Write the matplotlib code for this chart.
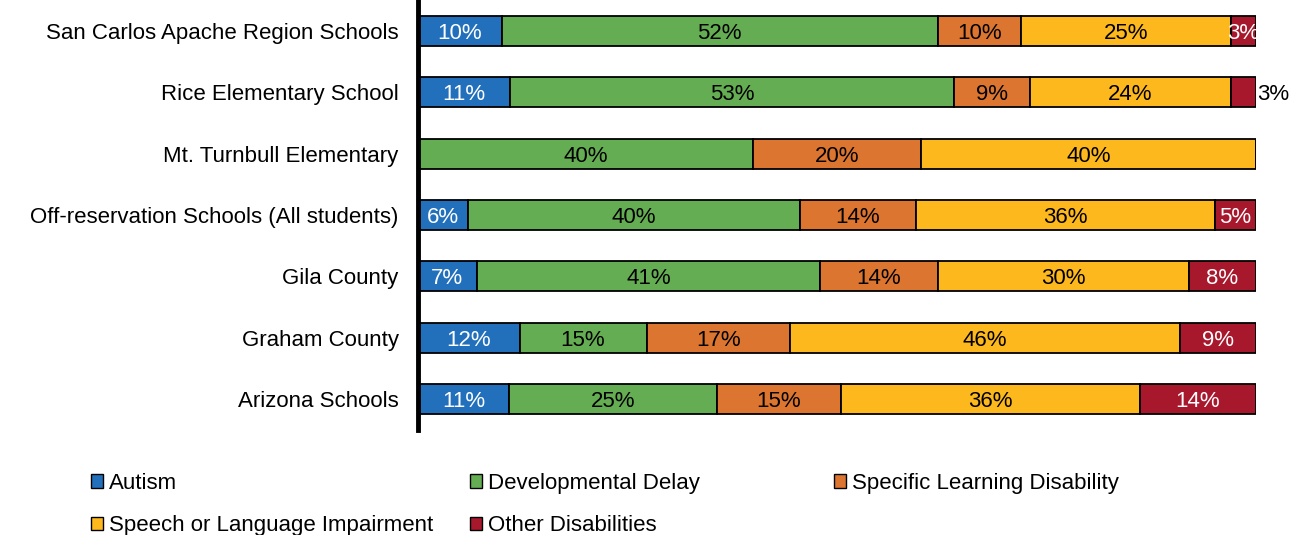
import matplotlib.pyplot as plt
import numpy as np
from matplotlib.patches import Patch

plt.rcParams['font.family'] = ['Liberation Sans', 'DejaVu Sans']

# data (percent of students per category)
schools = ['San Carlos Apache Region Schools', 'Rice Elementary School',
           'Mt. Turnbull Elementary', 'Off-reservation Schools (All students)',
           'Gila County', 'Graham County', 'Arizona Schools']
series = ['Autism', 'Developmental Delay', 'Specific Learning Disability',
          'Speech or Language Impairment', 'Other Disabilities']
autism = [10, 11, 0, 6, 7, 12, 11]
dev_delay = [52, 53, 40, 40, 41, 15, 25]
learning = [10, 9, 20, 14, 14, 17, 15]
speech = [25, 24, 40, 36, 30, 46, 36]
other = [3, 3, 0, 5, 8, 9, 14]

colors = ['#2270BC', '#65AD52', '#DC7530', '#FDB81E', '#A7182D']
text_colors = ['white', 'black', 'black', 'black', 'white']
fs = 16

vals = np.array([autism, dev_delay, learning, speech, other], dtype=float)
shares = vals / vals.sum(axis=0) * 100  # 100% stacked

fig = plt.figure(figsize=(12.91, 5.35), dpi=100)
ax = fig.add_axes([418 / 1291, 1 - 430 / 535, (1256 - 418) / 1291, 430 / 535])

y = np.arange(len(schools))
left = np.zeros(len(schools))
for i, name in enumerate(series):
    ax.barh(y, shares[i], left=left, height=0.49, color=colors[i],
            edgecolor='black', linewidth=1.3, label=name)
    for j in range(len(schools)):
        if vals[i, j] == 0:
            continue
        xc = left[j] + shares[i, j] / 2
        tc = text_colors[i]
        if i == 4 and j == 1:
            # label placed outside the bar in the original
            xc = 102.0
            tc = 'black'
        ax.text(xc, y[j], f'{vals[i, j]:.0f}%', ha='center',
                va='center_baseline', color=tc, fontsize=fs)
    left += shares[i]

ax.set_xlim(0, 100)
ax.set_ylim(len(schools) - 0.5, -0.5)
ax.set_yticks(y)
ax.set_yticklabels(schools, fontsize=fs)
ax.tick_params(axis='y', length=0, pad=14)
ax.set_xticks([])
for s in ['top', 'right', 'bottom']:
    ax.spines[s].set_visible(False)
ax.spines['left'].set_linewidth(3.5)

handles = [Patch(facecolor=c, edgecolor='black', linewidth=1) for c in colors]
cols = [[0, 3], [1, 4], [2]]
xpos = [91 / 1291, 470 / 1291, 834 / 1291]
for xp, idx in zip(xpos, cols):
    fig.legend([handles[k] for k in idx], [series[k] for k in idx],
               loc='upper left', bbox_to_anchor=(xp, 1 - 473 / 535),
               frameon=False, fontsize=fs, handlelength=0.55,
               handleheight=0.55, handletextpad=0.25, labelspacing=0.95,
               borderpad=0, borderaxespad=0)

fig.savefig('out.png', dpi=100)
